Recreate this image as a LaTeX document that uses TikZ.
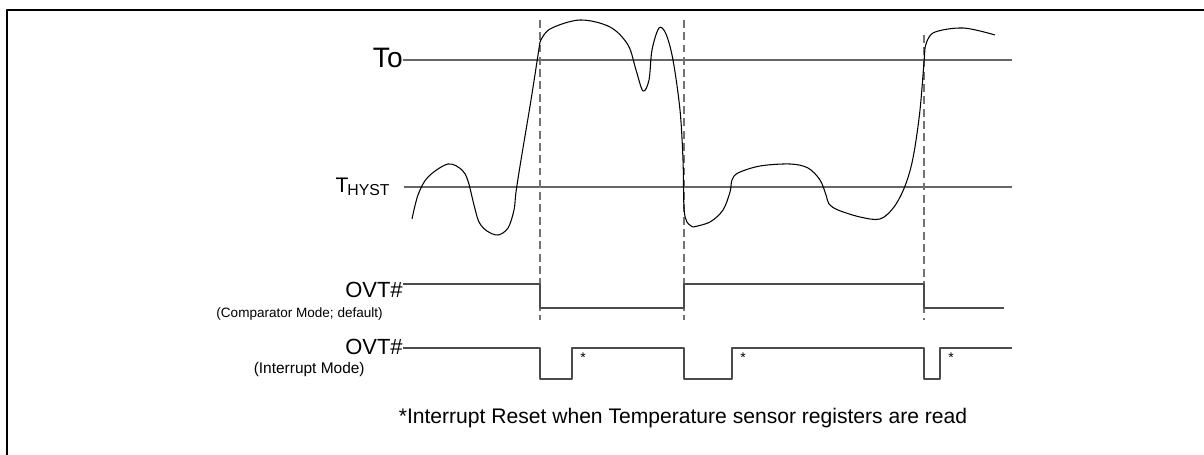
\documentclass[tikz,border=0pt]{standalone}
\usepackage{fontspec}
\setmainfont{Liberation Sans}
\usetikzlibrary{positioning}

\begin{document}
\begin{tikzpicture}[x=0.02cm,y=-0.02cm,line join=round,
  frame/.style={line width=1.6pt},
  level/.style={black!60,line width=0.7pt},
  sig/.style={black!70,line width=0.7pt},
  edgeline/.style={black!55,line width=0.7pt,dash pattern=on 4.5pt off 2.5pt},
  temp/.style={black,line width=0.6pt},
  biglbl/.style={anchor=base east,inner sep=0pt,font=\fontsize{12.5}{12}\selectfont},
  smalllbl/.style={anchor=base east,inner sep=0pt,font=\fontsize{8}{9}\selectfont},
  star/.style={inner sep=0pt,font=\fontsize{8}{8}\selectfont}]
\useasboundingbox (0,0) rectangle (1204,455);
\draw[frame] (7,455) -- (7,10) -- (1204,10);

% threshold levels
\node[biglbl,font=\fontsize{16}{16}\selectfont] (To) at (403,68) {To};
\node[anchor=base east,inner sep=0pt,font=\fontsize{12}{12}\selectfont] (Thyst) at (390,193)
  {T\kern-0.6pt\raisebox{-1.6pt}{\fontsize{9}{9}\selectfont HYST}};
\coordinate (toend) at (1012,60);
\coordinate (hystbeg) at (404,187);
\coordinate (hystend) at (1012,187);
\draw[level] (To.east |- toend) -- (toend);
\draw[level] (hystbeg) -- (hystend);

% switching instants
\draw[edgeline] (540,20) -- (540,320);
\draw[edgeline] (684,20) -- (684,320);
\draw[edgeline] (924,35) -- (924,320);

% temperature
\draw[temp] plot[smooth,tension=0.55] coordinates{(412,219) (418,195) (428,177) (448,164) (462,170) (468,181) (474,205) (479,222) (487,231) (498,235) (508,228) (514,210) (516,192) (521,160) (531,100) (540,42)};
\draw[temp] plot[smooth,tension=0.55] coordinates{(540,42) (550,29) (580,20) (610,27) (628,45) (636,70) (643,91) (649,80) (652,50) (659,28) (666,34) (673,60) (680,110) (683,160) (684,208) (687,222) (693,227)};
\draw[temp] plot[smooth,tension=0.55] coordinates{(693,227) (710,222) (723,210) (730,192) (732,180) (738,173) (760,166) (790,164) (808,168) (820,180) (826,195) (829,204) (838,210) (860,217) (880,219) (894,207) (905,186) (913,158) (920,110) (925,48)};
\draw[temp] plot[smooth,tension=0.55] coordinates{(925,48) (933,33) (963,28) (995,35)};

% OVT# comparator
\node[biglbl] (ovtA) at (403,298) {OVT\#};
\node[smalllbl,font=\fontsize{7.7}{9}\selectfont] (cmpA) at (383,318) {(Comparator Mode; default)};
\draw[sig] (ovtA.east |- 0,284) -- (540,284) -- (540,308) -- (684,308) -- (684,284)
  -- (924,284) -- (924,308) -- (1004,308);

% OVT# interrupt
\node[biglbl] (ovtB) at (403,355) {OVT\#};
\node[smalllbl,font=\fontsize{8.8}{9}\selectfont] (intB) at (365,374) {(Interrupt Mode)};
\draw[sig] (ovtB.east |- 0,348) -- (540,348) -- (540,379) -- (572,379) -- (572,348)
  -- (684,348) -- (684,379) -- (732,379) -- (732,348) -- (924,348) -- (924,379)
  -- (940,379) -- (940,348) -- (1012,348);
\node[star] (s1) at (583,358) {*};
\node[star] (s2) at (743,358) {*};
\node[star] (s3) at (951,358) {*};

\node[inner sep=0pt,anchor=base,font=\fontsize{12}{12}\selectfont] (note) at (683,424)
  {*Interrupt Reset when Temperature sensor registers are read};
\end{tikzpicture}
\end{document}
